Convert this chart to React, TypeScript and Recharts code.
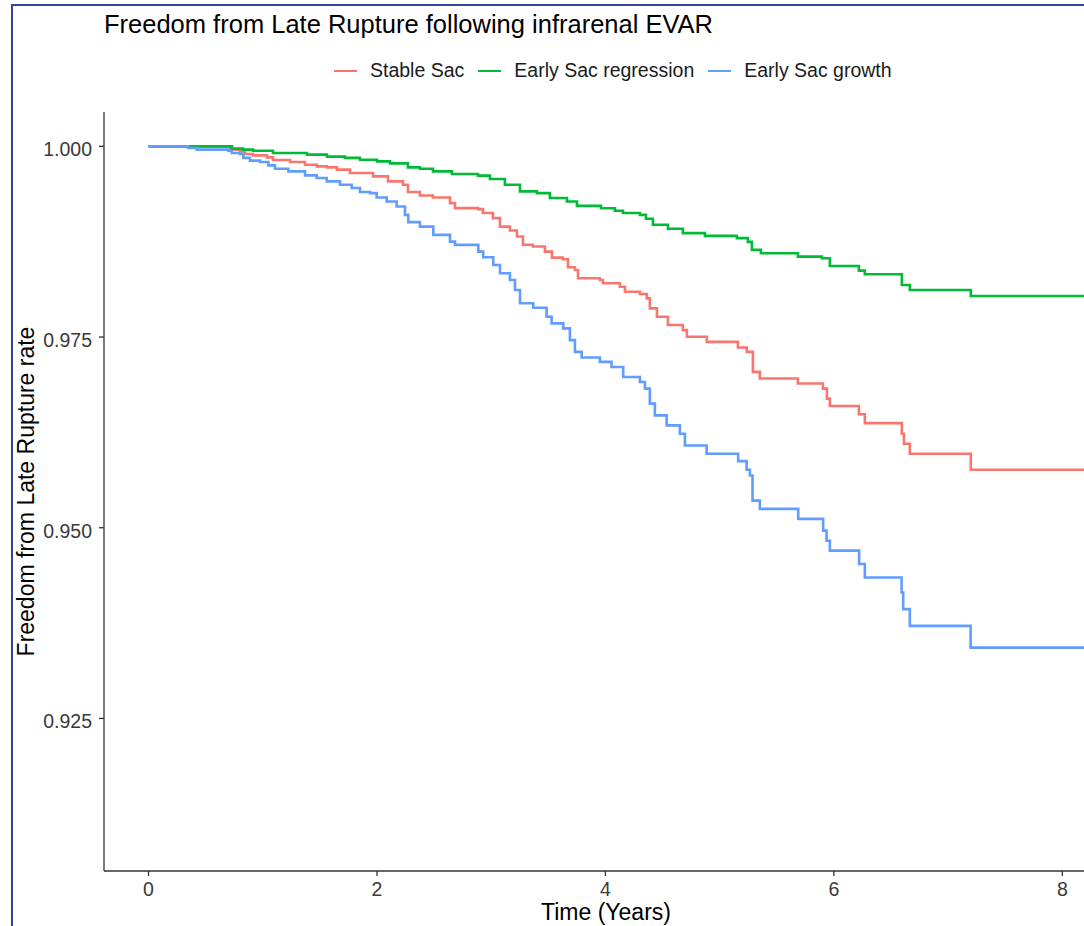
import { Line, LineChart, XAxis, YAxis } from 'recharts';

type Point = [number, number];

// Kaplan-Meier steps: [time (years), survival]
const SERIES_NAMES = ['Stable Sac', 'Early Sac regression', 'Early Sac growth'];
const SERIES_COLORS = ['#F8766D', '#00BA38', '#619CFF'];

const stableSac: Point[] = [
  [0, 1], [0.713, 0.99957], [0.801, 0.99934], [0.845, 0.999], [0.915, 0.99882],
  [1.037, 0.99855], [1.09, 0.99821], [1.239, 0.99795], [1.37, 0.99759], [1.475, 0.99737],
  [1.562, 0.99724], [1.65, 0.99694], [1.764, 0.9965], [1.965, 0.99606], [2.096, 0.9954],
  [2.228, 0.99497], [2.271, 0.99401], [2.376, 0.99356], [2.49, 0.9933], [2.639, 0.99256],
  [2.683, 0.9919], [2.884, 0.99177], [2.928, 0.99125], [3.015, 0.99059], [3.077, 0.98948],
  [3.164, 0.98896], [3.225, 0.98818], [3.278, 0.98709], [3.365, 0.98686], [3.47, 0.9862],
  [3.532, 0.98541], [3.628, 0.9852], [3.672, 0.98415], [3.733, 0.98379], [3.76, 0.9827],
  [3.952, 0.98248], [3.978, 0.98205], [4.127, 0.9816], [4.171, 0.98094], [4.302, 0.98064],
  [4.363, 0.98007], [4.389, 0.97876], [4.451, 0.97766], [4.547, 0.97657], [4.678, 0.97591],
  [4.713, 0.97503], [4.888, 0.97437], [5.16, 0.97363], [5.238, 0.97305], [5.291, 0.97043],
  [5.352, 0.96956], [5.685, 0.9689], [5.904, 0.96824], [5.939, 0.96693], [5.965, 0.96596],
  [6.219, 0.96487], [6.271, 0.96372], [6.595, 0.96233], [6.613, 0.96101], [6.665, 0.9597],
  [7.199, 0.9576], [8.4, 0.9576],
];

const earlySacRegression: Point[] = [
  [0, 1], [0.731, 0.9997], [0.827, 0.99957], [0.915, 0.99943], [1.09, 0.99913],
  [1.387, 0.99891], [1.562, 0.99865], [1.72, 0.99848], [1.851, 0.99825], [2.0, 0.99803],
  [2.114, 0.99777], [2.271, 0.99724], [2.376, 0.99707], [2.49, 0.99671], [2.656, 0.99637],
  [2.884, 0.99616], [2.989, 0.99572], [3.12, 0.99497], [3.252, 0.99409], [3.4, 0.99387],
  [3.514, 0.99322], [3.663, 0.99277], [3.751, 0.9922], [3.961, 0.99188], [4.083, 0.99155],
  [4.153, 0.99125], [4.302, 0.99102], [4.355, 0.9905], [4.416, 0.98971], [4.547, 0.98919],
  [4.678, 0.98862], [4.871, 0.98826], [5.151, 0.98796], [5.247, 0.98747], [5.282, 0.98642],
  [5.361, 0.98598], [5.685, 0.98554], [5.895, 0.98533], [5.965, 0.98432], [6.219, 0.9837],
  [6.271, 0.98323], [6.595, 0.98182], [6.665, 0.98116], [7.199, 0.98038], [8.4, 0.98038],
];

const earlySacGrowth: Point[] = [
  [0, 1], [0.348, 0.99979], [0.422, 0.99957], [0.698, 0.99943], [0.728, 0.99913],
  [0.801, 0.999], [0.83, 0.99848], [0.888, 0.99812], [0.976, 0.99795], [1.049, 0.9975],
  [1.107, 0.99707], [1.224, 0.99671], [1.37, 0.99619], [1.472, 0.99584], [1.56, 0.9954],
  [1.676, 0.99497], [1.779, 0.99453], [1.851, 0.99401], [1.939, 0.99387], [1.997, 0.9933],
  [2.085, 0.99277], [2.172, 0.99211], [2.245, 0.99102], [2.274, 0.99006], [2.376, 0.98948],
  [2.493, 0.98839], [2.639, 0.98751], [2.683, 0.98708], [2.887, 0.9862], [2.93, 0.98546],
  [3.018, 0.98445], [3.077, 0.98336], [3.164, 0.98248], [3.208, 0.98116], [3.252, 0.97942],
  [3.368, 0.97884], [3.485, 0.97766], [3.529, 0.97679], [3.631, 0.97613], [3.689, 0.97459],
  [3.733, 0.97305], [3.792, 0.97232], [3.952, 0.97174], [4.054, 0.97108], [4.156, 0.96977],
  [4.302, 0.96911], [4.346, 0.96824], [4.389, 0.96627], [4.433, 0.96473], [4.536, 0.96342],
  [4.652, 0.96233], [4.696, 0.96079], [4.886, 0.9597], [5.162, 0.95873], [5.236, 0.9576],
  [5.265, 0.95685], [5.288, 0.95356], [5.352, 0.95247], [5.688, 0.95116], [5.906, 0.94962],
  [5.936, 0.9483], [5.965, 0.947], [6.221, 0.94524], [6.271, 0.94348], [6.593, 0.94151],
  [6.607, 0.93933], [6.665, 0.93713], [7.197, 0.93428], [8.4, 0.93428],
];

const X_TICKS = [0, 2, 4, 6, 8];
const Y_TICKS = [0.925, 0.95, 0.975, 1.0];

const FONT = "'Liberation Sans', Arial, Helvetica, sans-serif";
const AXIS_COLOR = '#333333';
const TICK_TEXT = '#3a3a3a';

export default function App() {
  const series = [stableSac, earlySacRegression, earlySacGrowth].map((pts, i) => ({
    color: SERIES_COLORS[i],
    data: pts.map(([t, v]) => ({ t, v })),
    name: SERIES_NAMES[i],
  }));

  return (
    <div
      style={{
        background: '#fff',
        fontFamily: FONT,
        height: 926,
        left: 0,
        overflow: 'hidden',
        position: 'fixed',
        top: 0,
        width: 1084,
      }}
    >
      {/* frame of the screenshot */}
      <div
        style={{
          borderLeft: '2px solid #35459b',
          borderTop: '2px solid #35459b',
          height: 1000,
          left: 11,
          position: 'absolute',
          top: 4,
          width: 1200,
        }}
      />

      <div style={{ position: 'absolute', left: 0, top: 0 }}>
        <LineChart height={926} margin={{ bottom: 0, left: 0, right: 12, top: 112 }} width={1120}>
          <XAxis
            allowDataOverflow
            axisLine={{ stroke: AXIS_COLOR, strokeWidth: 1.3 }}
            dataKey="t"
            domain={[-0.39, 8.4]}
            height={55}
            tick={{ fill: TICK_TEXT, fontFamily: FONT, fontSize: 19.5 }}
            tickLine={{ stroke: AXIS_COLOR, strokeWidth: 1.3 }}
            tickMargin={6.5}
            tickSize={5}
            ticks={X_TICKS}
            type="number"
          />
          <YAxis
            allowDataOverflow
            axisLine={{ stroke: AXIS_COLOR, strokeWidth: 1.3 }}
            domain={[0.905, 1.0045]}
            tick={{ dy: 3, fill: TICK_TEXT, fontFamily: FONT, fontSize: 19.5 }}
            tickFormatter={(v: number) => v.toFixed(3)}
            tickLine={{ stroke: AXIS_COLOR, strokeWidth: 1.3 }}
            tickMargin={7}
            tickSize={5}
            ticks={Y_TICKS}
            type="number"
            width={104}
          />
          {series.map((s) => (
            <Line
              data={s.data}
              dataKey="v"
              dot={false}
              isAnimationActive={false}
              key={s.name}
              name={s.name}
              stroke={s.color}
              strokeWidth={2.6}
              type="stepAfter"
            />
          ))}
        </LineChart>
      </div>

      {/* title */}
      <div
        style={{
          color: '#000',
          fontSize: 25.5,
          left: 104,
          lineHeight: 1,
          position: 'absolute',
          top: 12,
          whiteSpace: 'nowrap',
        }}
      >
        Freedom from Late Rupture following infrarenal EVAR
      </div>

      {/* legend */}
      <div
        style={{
          alignItems: 'center',
          color: '#1a1a1a',
          display: 'flex',
          fontSize: 19.5,
          height: 20,
          left: 334,
          lineHeight: 1,
          position: 'absolute',
          top: 61,
          whiteSpace: 'nowrap',
        }}
      >
        {series.map((s) => (
          <div key={s.name} style={{ alignItems: 'center', display: 'flex', marginRight: 14 }}>
            <span
              style={{ background: s.color, display: 'inline-block', height: 2.6, marginRight: 13, width: 23 }}
            />
            <span>{s.name}</span>
          </div>
        ))}
      </div>

      {/* axis titles */}
      <div
        style={{
          color: '#000',
          fontSize: 23,
          height: 18,
          left: 406,
          lineHeight: '18px',
          position: 'absolute',
          textAlign: 'center',
          top: 902.5,
          width: 400,
        }}
      >
        Time (Years)
      </div>
      <div
        style={{
          color: '#000',
          fontSize: 23,
          height: 23,
          left: -274.5,
          lineHeight: '23px',
          position: 'absolute',
          textAlign: 'center',
          top: 480,
          transform: 'rotate(-90deg)',
          whiteSpace: 'nowrap',
          width: 600,
        }}
      >
        Freedom from Late Rupture rate
      </div>
    </div>
  );
}
